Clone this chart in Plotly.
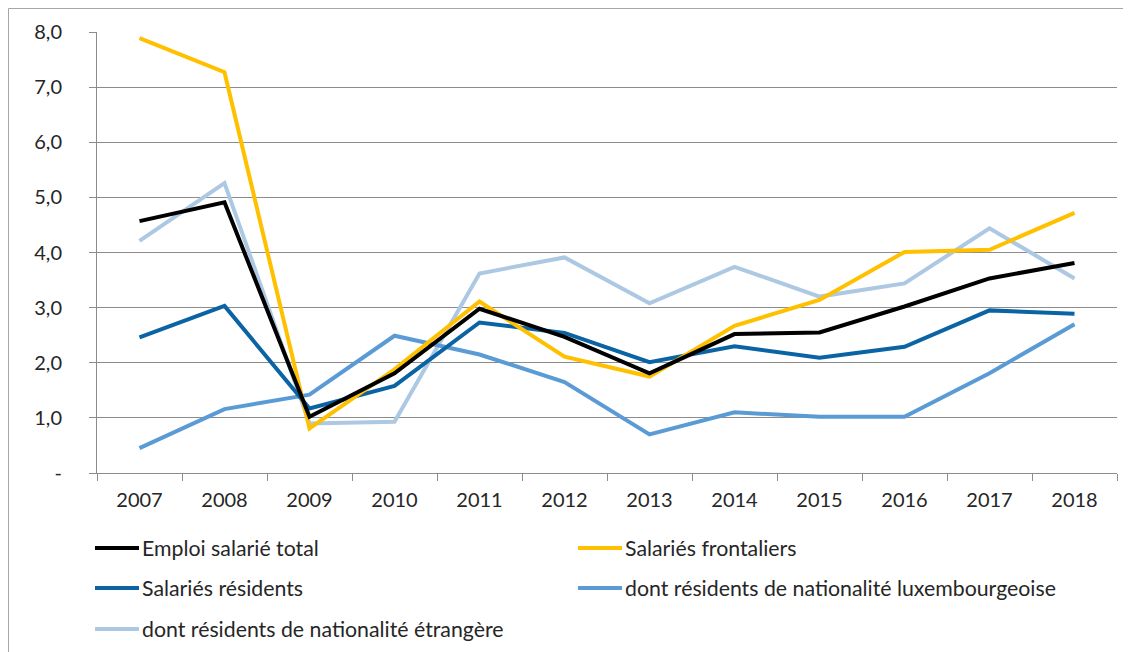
import plotly.graph_objects as go

years = ["2007", "2008", "2009", "2010", "2011", "2012", "2013", "2014", "2015", "2016", "2017", "2018"]

emploi_total = [4.57, 4.91, 1.02, 1.81, 2.98, 2.47, 1.81, 2.52, 2.55, 3.02, 3.53, 3.81]
frontaliers = [7.89, 7.27, 0.81, 1.88, 3.11, 2.11, 1.75, 2.67, 3.14, 4.01, 4.05, 4.72]
residents = [2.46, 3.03, 1.17, 1.58, 2.73, 2.54, 2.01, 2.30, 2.09, 2.29, 2.95, 2.89]
res_lux = [0.45, 1.16, 1.42, 2.49, 2.15, 1.65, 0.70, 1.10, 1.02, 1.02, 1.81, 2.70]
res_etr = [4.21, 5.26, 0.90, 0.93, 3.62, 3.91, 3.08, 3.74, 3.20, 3.44, 4.44, 3.53]

series_names = [
    "Emploi salarié total",
    "Salariés frontaliers",
    "Salariés résidents",
    "dont résidents de nationalité luxembourgeoise",
    "dont résidents de nationalité étrangère",
]
series_values = [emploi_total, frontaliers, residents, res_lux, res_etr]
series_colors = ["#000000", "#FFC000", "#0A64A4", "#5B9BD5", "#ADC8E3"]

y_tickvals = [0, 1, 2, 3, 4, 5, 6, 7, 8]
y_ticktext = ["-", "1,0", "2,0", "3,0", "4,0", "5,0", "6,0", "7,0", "8,0"]

FONT = "Lato, 'Open Sans', sans-serif"
TXT = "#262626"
GRID = "#8C8C8C"
FS = 20
FS_LEG = 21.3

fig = go.Figure()
order = [4, 3, 2, 1, 0]
for i in order:
    fig.add_trace(go.Scatter(
        x=years, y=series_values[i], mode="lines", name=series_names[i],
        line=dict(color=series_colors[i], width=4), showlegend=False,
    ))

# page body offset of 8px is compensated: figure spans screen 8..1131, 8..652
OFF = 8
W, H = 1131 - OFF, 652 - OFF
ml, mr, mt, mb = 97 - OFF, 14, 32 - OFF, 179
pw = W - ml - mr
ph = H - mt - mb

def px_x(x):
    return (x - OFF - ml) / pw

def px_y(y):
    return (H - mb - (y - OFF)) / ph

legend_pos = [(95, 548), (578, 548), (95, 588), (578, 588), (95, 629)]
shapes = []
annotations = []
for (lx, ly), name, col in zip(legend_pos, series_names, series_colors):
    shapes.append(dict(type="line", xref="paper", yref="paper",
                       x0=px_x(lx), x1=px_x(lx + 44), y0=px_y(ly), y1=px_y(ly),
                       line=dict(color=col, width=4)))
    annotations.append(dict(xref="paper", yref="paper", x=px_x(lx + 45), y=px_y(ly),
                            text=name, showarrow=False, xanchor="left", yanchor="middle",
                            font=dict(family=FONT, size=FS_LEG, color=TXT)))

# outer chart border (top and left visible)
shapes.append(dict(type="line", xref="paper", yref="paper",
                   x0=px_x(8.5), x1=px_x(1140), y0=px_y(8.5), y1=px_y(8.5),
                   line=dict(color="#A6A6A6", width=1)))
shapes.append(dict(type="line", xref="paper", yref="paper",
                   x0=px_x(8.5), x1=px_x(8.5), y0=px_y(8.5), y1=px_y(660),
                   line=dict(color="#A6A6A6", width=1)))

fig.update_layout(
    width=W, height=H,
    margin=dict(l=ml, r=mr, t=mt, b=mb, pad=0),
    paper_bgcolor="white", plot_bgcolor="white",
    font=dict(family=FONT, size=FS, color=TXT),
    shapes=shapes, annotations=annotations,
    xaxis=dict(
        type="category", tickson="boundaries", ticks="outside", ticklen=7,
        tickcolor=GRID, tickwidth=1, showgrid=False,
        showline=True, linecolor=GRID, linewidth=1,
        tickfont=dict(family=FONT, size=FS, color=TXT),
        range=[-0.5, 11.5], fixedrange=True, ticklabelstandoff=9,
    ),
    yaxis=dict(
        range=[0, 8], tickvals=y_tickvals, ticktext=y_ticktext,
        ticks="outside", ticklen=7, tickcolor=GRID, tickwidth=1,
        showgrid=True, gridcolor=GRID, gridwidth=1,
        showline=True, linecolor=GRID, linewidth=1,
        zeroline=False, tickfont=dict(family=FONT, size=FS, color=TXT),
        ticklabelstandoff=23,
    ),
)

fig.write_html("out.html")
